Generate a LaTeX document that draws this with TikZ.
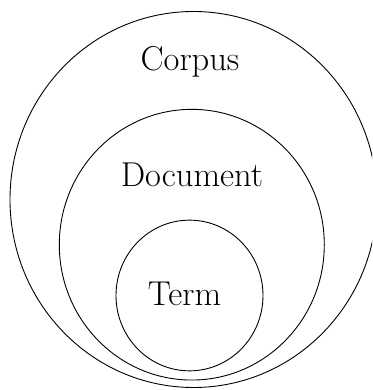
\documentclass[tikz,border=0pt]{standalone}
\usetikzlibrary{shapes.geometric}
\begin{document}
\begin{tikzpicture}[x=1pt,y=1pt,
  setshape/.style={draw, ellipse, line width=0.9pt, inner sep=0pt},
  setlabel/.style={anchor=base, inner sep=0pt, font=\fontsize{34.5}{41}\selectfont}]
  \useasboundingbox (0,0) rectangle (372,390);
  \clip (0,0) rectangle (372,390);
  % nested sets, all touching near the bottom
  \node[setshape, minimum width=367pt, minimum height=376pt] (corpus) at (193.5,190.5) {};
  \node[setshape, minimum width=265pt, minimum height=270.7pt] (document) at (191.8,145.3) {};
  \node[setshape, minimum width=147pt, minimum height=150.7pt] (term) at (189.5,94.5) {};
  % set names
  \node[setlabel] (corpuslabel) at (190,319) {Corpus};
  \node[setlabel] (documentlabel) at (192,203.3) {Document};
  \node[setlabel] (termlabel) at (184.5,84) {Term};
\end{tikzpicture}
\end{document}
